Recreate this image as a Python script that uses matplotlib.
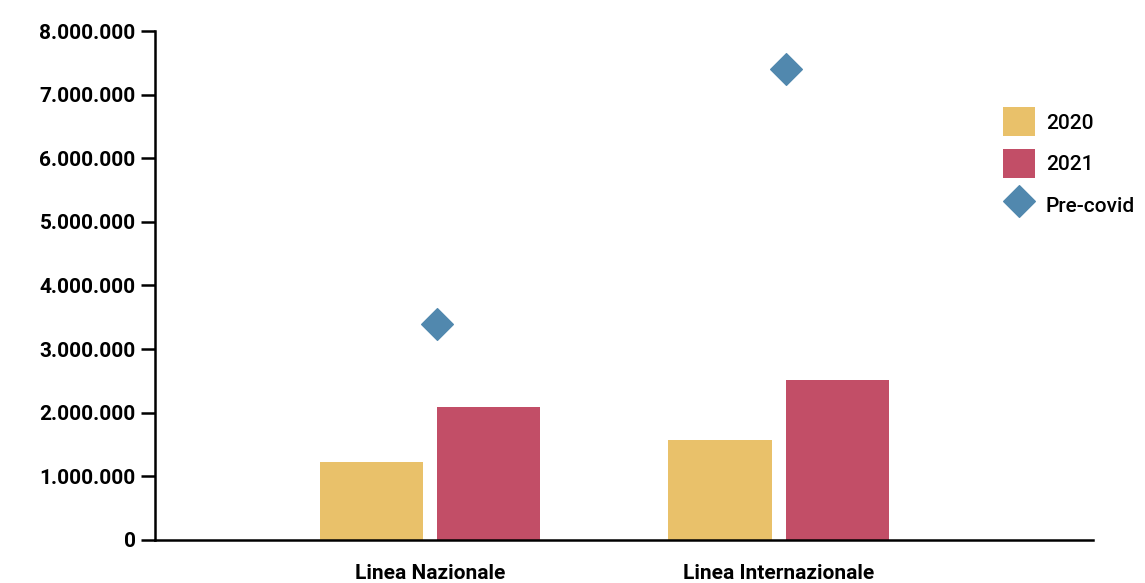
import numpy as np
import matplotlib
matplotlib.use("Agg")
from matplotlib import pyplot as plt
from matplotlib.ticker import FuncFormatter

categories = ["Linea Nazionale", "Linea Internazionale"]
val_2020 = [1230000, 1570000]
val_2021 = [2090000, 2520000]
pre_covid = [3400000, 7410000]

plt.rcParams['font.family'] = ['Roboto', 'DejaVu Sans']

fig = plt.figure(figsize=(11.45, 5.83), dpi=100)
ax = fig.add_axes([0.1354, 0.0738, 0.8192, 0.873])

x = np.arange(len(categories))
w = 0.296
b1 = ax.bar(x - 0.168, val_2020, w, color="#E9C16A", label="2020")
b2 = ax.bar(x + 0.168, val_2021, w, color="#C24E67", label="2021")
sc = ax.scatter(x + 0.02, pre_covid, marker="D", s=260, color="#5188AE", label="Pre-covid", zorder=3)

ax.set_xlim(-0.789, 1.902)
ax.set_ylim(0, 8000000)
ax.set_yticks(np.arange(0, 8000001, 1000000))
ax.yaxis.set_major_formatter(FuncFormatter(lambda v, p: f"{int(v):,}".replace(",", ".")))
ax.set_xticks(x)
ax.set_xticklabels(categories)
ax.tick_params(axis="x", length=0, pad=17, labelsize=15)
ax.tick_params(axis="y", length=10, width=1.8, pad=4, labelsize=15)
for lab in ax.get_yticklabels() + ax.get_xticklabels():
    lab.set_fontweight("semibold")

ax.spines["top"].set_visible(False)
ax.spines["right"].set_visible(False)
ax.spines["left"].set_linewidth(1.8)
ax.spines["bottom"].set_linewidth(1.8)

leg = ax.legend([b1, b2, sc], ["2020", "2021", "Pre-covid"],
                loc="upper left", bbox_to_anchor=(0.904, 0.85), frameon=False,
                fontsize=15, handlelength=1.55, handleheight=1.75, handletextpad=0.5,
                labelspacing=0.62, borderaxespad=0, borderpad=0)
for t in leg.get_texts():
    t.set_fontweight("medium")

fig.savefig("out.png", dpi=100)
